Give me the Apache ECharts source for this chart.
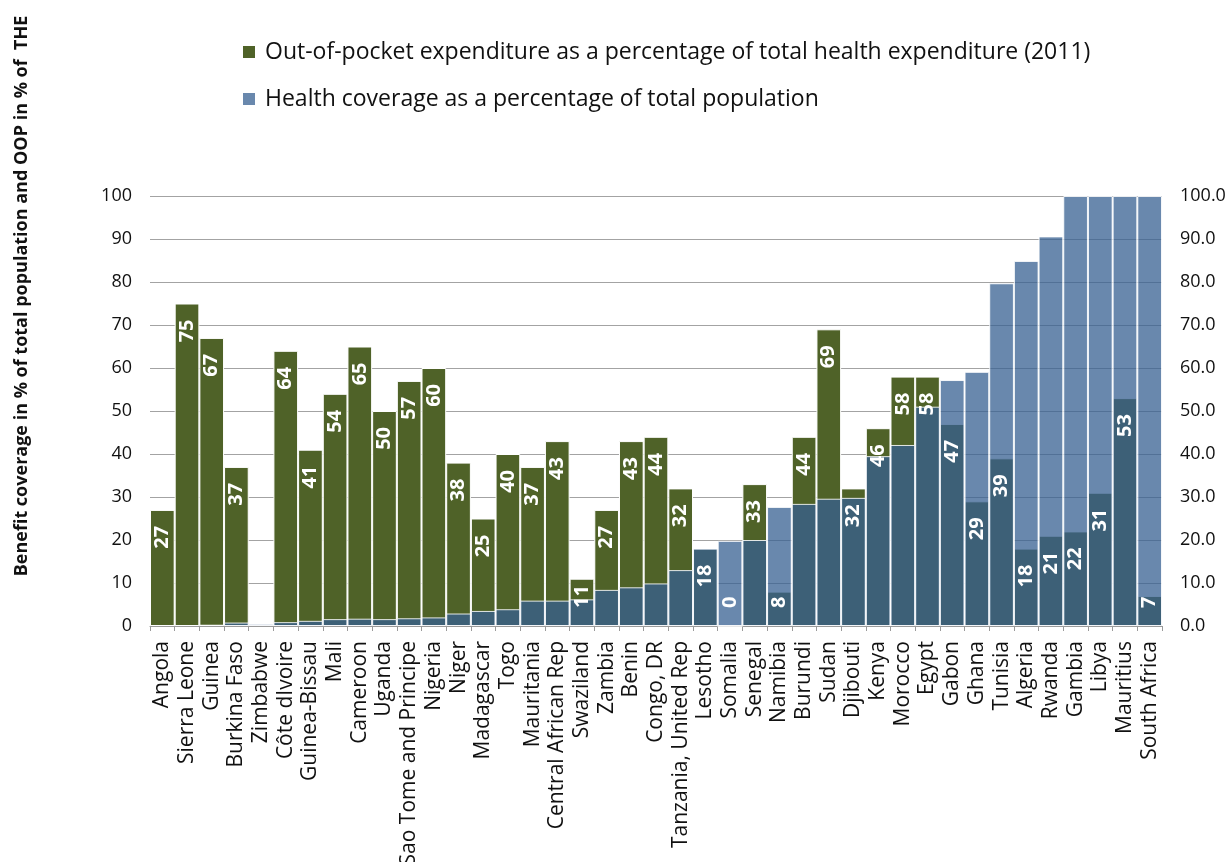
<!DOCTYPE html>
<html>
<head>
<meta charset="utf-8">
<script src="https://cdn.jsdelivr.net/npm/echarts@6/dist/echarts.min.js"></script>
<style>
  html, body { margin: 0; padding: 0; background: #ffffff; }
  #chart { width: 1232px; height: 862px; }
</style>
</head>
<body>
<div id="chart"></div>
<script>
// Countries, ordered by health coverage
const countries = [
  'Angola', 'Sierra Leone', 'Guinea', 'Burkina Faso', 'Zimbabwe', 'Côte dIvoire',
  'Guinea-Bissau', 'Mali', 'Cameroon', 'Uganda', 'Sao Tome and Principe', 'Nigeria',
  'Niger', 'Madagascar', 'Togo', 'Mauritania', 'Central African Rep', 'Swaziland',
  'Zambia', 'Benin', 'Congo, DR', 'Tanzania, United Rep', 'Lesotho', 'Somalia',
  'Senegal', 'Namibia', 'Burundi', 'Sudan', 'Djibouti', 'Kenya', 'Morocco', 'Egypt',
  'Gabon', 'Ghana', 'Tunisia', 'Algeria', 'Rwanda', 'Gambia', 'Libya', 'Mauritius',
  'South Africa'
];

// Out-of-pocket expenditure, % of total health expenditure (2011)
const oopShare = [
  27, 75, 67, 37, null, 64,
  41, 54, 65, 50, 57, 60,
  38, 25, 40, 37, 43, 11,
  27, 43, 44, 32, 18, 0,
  33, 8, 44, 69, 32, 46, 58, 58,
  47, 29, 39, 18, 21, 22, 31, 53,
  7
];

// Health coverage, % of total population
const coverageShare = [
  null, null, 0.3, 0.8, 0.5, 0.9,
  1.2, 1.6, 1.7, 1.6, 1.8, 2.0,
  2.9, 3.5, 3.9, 5.9, 5.9, 6.2,
  8.4, 9.0, 9.9, 13.0, 18, 19.8,
  20.0, 27.7, 28.4, 29.6, 29.8, 39.5, 42.1, 51.0,
  57.2, 59.1, 79.7, 84.9, 90.6, 100, 100, 100,
  100
];

const OOP_NAME = 'Out-of-pocket expenditure as a percentage of total health expenditure (2011)';
const COVERAGE_NAME = 'Health coverage as a percentage of total population';
const AXIS_TITLE = 'Benefit coverage in % of total population and OOP in % of  THE';

const FONT = '"Open Sans", "Noto Sans", sans-serif';
const OOP_COLOR = '#4F6228';
const COVERAGE_COLOR = 'rgba(55, 96, 146, 0.75)';
const GRID_COLOR = '#a3a3a3';

// Value labels sit just inside the top of each OOP bar; short bars get them
// lifted off the baseline instead.
const labelTop = {
  position: 'insideTop', distance: 16, align: 'right', verticalAlign: 'middle'
};
const labelBottom = {
  position: 'insideBottom', distance: 18, align: 'left', verticalAlign: 'middle'
};
const labelData = oopShare.map(v => ({
  value: v,
  label: (v !== null && v < 13) ? labelBottom : labelTop
}));

const chart = echarts.init(document.getElementById('chart'), null, { renderer: 'canvas' });

const valueAxisBase = {
  type: 'value',
  min: 0,
  max: 100,
  interval: 10,
  axisLine: { show: false },
  axisTick: { show: false }
};

chart.setOption({
  animation: false,
  backgroundColor: '#ffffff',
  textStyle: { fontFamily: FONT },
  legend: {
    orient: 'vertical',
    left: 238,
    top: 34,
    itemWidth: 12,
    itemHeight: 12,
    itemGap: 21,
    icon: 'rect',
    selectedMode: false,
    itemStyle: { borderWidth: 0 },
    textStyle: { fontFamily: FONT, fontSize: 23, color: '#111', lineHeight: 26, padding: [0, 0, 0, 5] },
    data: [OOP_NAME, COVERAGE_NAME]
  },
  graphic: [{
    type: 'text',
    x: 22,
    y: 296,
    rotation: Math.PI / 2,
    style: {
      text: AXIS_TITLE,
      font: 'bold 18px ' + FONT,
      fill: '#111',
      align: 'center',
      verticalAlign: 'middle'
    }
  }],
  grid: {
    left: 150, right: 70, top: 196, bottom: 236,
    containLabel: false,
    outerBoundsMode: 'none'
  },
  xAxis: {
    type: 'category',
    data: countries,
    axisLine: { lineStyle: { color: '#9a9a9a', width: 1 } },
    axisTick: { show: true, length: 5, lineStyle: { color: '#9a9a9a' } },
    axisLabel: {
      interval: 0,
      rotate: 90,
      margin: 15,
      fontFamily: FONT,
      fontSize: 21,
      color: '#111'
    }
  },
  yAxis: [
    Object.assign({}, valueAxisBase, {
      position: 'left',
      splitLine: { show: true, lineStyle: { color: GRID_COLOR, width: 1 } },
      axisLabel: { margin: 18, fontFamily: FONT, fontSize: 18, color: '#111' }
    }),
    Object.assign({}, valueAxisBase, {
      position: 'right',
      splitLine: { show: false },
      axisLabel: {
        margin: 18,
        fontFamily: FONT,
        fontSize: 18,
        color: '#111',
        formatter: v => v.toFixed(1)
      }
    })
  ],
  series: [
    {
      name: OOP_NAME,
      type: 'bar',
      data: oopShare,
      barGap: '-100%',
      barCategoryGap: '0%',
      z: 2,
      itemStyle: { color: OOP_COLOR, borderColor: '#ffffff', borderWidth: 1 }
    },
    {
      name: COVERAGE_NAME,
      type: 'bar',
      data: coverageShare,
      barGap: '-100%',
      barCategoryGap: '0%',
      z: 3,
      itemStyle: { color: COVERAGE_COLOR, borderColor: 'rgba(255,255,255,0.85)', borderWidth: 1 }
    },
    {
      name: 'oop-labels',
      type: 'bar',
      data: labelData,
      barGap: '-100%',
      barCategoryGap: '0%',
      z: 4,
      silent: true,
      itemStyle: { color: 'rgba(0,0,0,0)', borderWidth: 0 },
      label: {
        show: true,
        rotate: 90,
        color: '#ffffff',
        fontFamily: FONT,
        fontWeight: 'bold',
        fontSize: 20,
        formatter: '{c}'
      }
    }
  ]
});
</script>
</body>
</html>
